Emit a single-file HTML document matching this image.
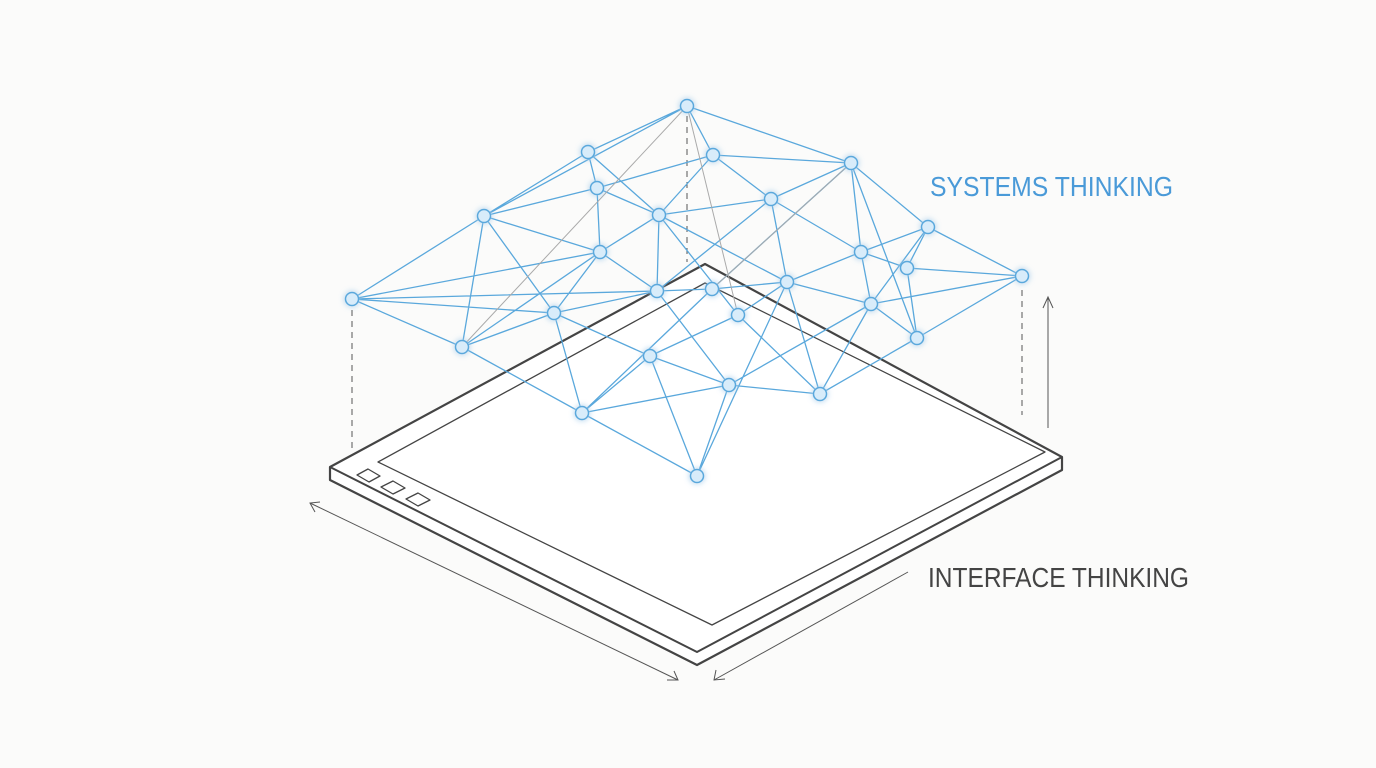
<!DOCTYPE html>
<html><head><meta charset="utf-8"><style>
html,body{margin:0;padding:0;background:#fbfbfa;}
svg{display:block}
</style></head><body>
<svg width="1376" height="768" viewBox="0 0 1376 768" xmlns="http://www.w3.org/2000/svg">
<defs>
<filter id="glow" x="-20%" y="-20%" width="140%" height="140%"><feGaussianBlur stdDeviation="3" result="b"/><feMerge><feMergeNode in="b"/><feMergeNode in="SourceGraphic"/></feMerge></filter>
</defs>
<rect width="1376" height="768" fill="#fbfbfa"/>
<!-- dashed verticals -->
<g stroke="#555" stroke-width="1" stroke-dasharray="6,5" fill="none">
<line x1="352" y1="310" x2="352" y2="452"/>
<line x1="687" y1="116" x2="687" y2="262"/>
<line x1="697" y1="486" x2="697" y2="622"/>
<line x1="1022" y1="290" x2="1022" y2="415"/>
</g>
<!-- tablet -->
<g fill="none" stroke="#444" stroke-linejoin="round">
<path d="M330,467 L705,264 L1062,457 L1062,470 L697,665 L330,480 Z" fill="#fff" stroke-width="2.2"/>
<path d="M330,467 L697,652 L1062,457" stroke-width="2"/>
<path d="M378,462 L705,283 L1045,452 L712,625 Z" stroke-width="1.3"/>
<path d="M357,475 L368,469 L380,476 L369,482 Z M381,487 L393,481 L405,488 L393,494 Z M406,499 L418,493 L430,500 L418,506 Z" stroke-width="1.3"/>
</g>
<!-- dimension arrows -->
<g stroke="#555" stroke-width="1" fill="none">
<line x1="310" y1="503" x2="678" y2="680"/>
<path d="M320,502 L310,503 L315,512"/>
<path d="M667,680 L678,680 L674,671"/>
<line x1="714" y1="680" x2="908" y2="572"/>
<path d="M716,670 L714,680 L725,679"/>
<line x1="1048" y1="428" x2="1048" y2="298"/>
<path d="M1043,308 L1048,297 L1053,308"/>
</g>
<!-- network -->
<g stroke="#5aa8dc" stroke-width="1.3" fill="none">
<path d="
M687,106L588,152 M687,106L713,155 M687,106L851,163 M687,106L484,216 M588,152L484,216 M588,152L597,188 M588,152L659,215 M713,155L771,199 M713,155L851,163 M713,155L659,215 M713,155L597,188
M851,163L771,199 M851,163L928,227 M851,163L861,252 M851,163L917,338 M851,163L712,289
M597,188L484,216 M597,188L600,252 M597,188L659,215 M484,216L352,299 M484,216L600,252 M484,216L462,347 M484,216L554,313
M659,215L600,252 M659,215L657,291 M659,215L771,199 M659,215L738,315 M659,215L787,282
M771,199L787,282 M771,199L861,252 M771,199L657,291
M928,227L861,252 M928,227L1022,276 M928,227L871,304 M928,227L907,268
M600,252L352,299 M600,252L554,313 M600,252L462,347 M600,252L657,291
M861,252L787,282 M861,252L871,304 M861,252L907,268
M907,268L917,338 M907,268L1022,276 M1022,276L871,304 M1022,276L917,338
M352,299L462,347 M352,299L554,313 M352,299L657,291
M657,291L712,289 M657,291L554,313 M657,291L729,385 M712,289L787,282 M712,289L582,413
M787,282L871,304 M787,282L738,315 M787,282L697,476 M787,282L820,394
M554,313L462,347 M554,313L650,356 M554,313L582,413
M871,304L820,394 M871,304L917,338 M871,304L729,385
M738,315L650,356 M738,315L820,394 M462,347L582,413
M650,356L582,413 M650,356L729,385 M650,356L697,476
M729,385L820,394 M729,385L582,413 M729,385L697,476 M582,413L697,476
M917,338L820,394"/>
</g>
<g stroke="#aaa" stroke-width="1" fill="none">
<path d="M687,106L462,347 M687,106L738,315 M851,163L712,289"/>
</g>
<g fill="#d8ecfa" stroke="#5aa8dc" stroke-width="1.5" filter="url(#glow)">
<circle cx="687" cy="106" r="6.5"/><circle cx="588" cy="152" r="6.5"/><circle cx="713" cy="155" r="6.5"/><circle cx="851" cy="163" r="6.5"/>
<circle cx="597" cy="188" r="6.5"/><circle cx="484" cy="216" r="6.5"/><circle cx="659" cy="215" r="6.5"/><circle cx="771" cy="199" r="6.5"/>
<circle cx="928" cy="227" r="6.5"/><circle cx="600" cy="252" r="6.5"/><circle cx="861" cy="252" r="6.5"/><circle cx="907" cy="268" r="6.5"/>
<circle cx="1022" cy="276" r="6.5"/><circle cx="352" cy="299" r="6.5"/><circle cx="657" cy="291" r="6.5"/><circle cx="712" cy="289" r="6.5"/>
<circle cx="787" cy="282" r="6.5"/><circle cx="554" cy="313" r="6.5"/><circle cx="871" cy="304" r="6.5"/><circle cx="738" cy="315" r="6.5"/>
<circle cx="462" cy="347" r="6.5"/><circle cx="917" cy="338" r="6.5"/><circle cx="650" cy="356" r="6.5"/><circle cx="729" cy="385" r="6.5"/>
<circle cx="820" cy="394" r="6.5"/><circle cx="582" cy="413" r="6.5"/><circle cx="697" cy="476" r="6.5"/>
</g>
<text x="930" y="196" font-family="'Liberation Sans Narrow','Liberation Sans',sans-serif" font-size="28" fill="#4a9ad8" textLength="243" lengthAdjust="spacingAndGlyphs">SYSTEMS THINKING</text>
<text x="928" y="587" font-family="'Liberation Sans Narrow','Liberation Sans',sans-serif" font-size="28" fill="#444" textLength="261" lengthAdjust="spacingAndGlyphs">INTERFACE THINKING</text>
</svg>
</body></html>
